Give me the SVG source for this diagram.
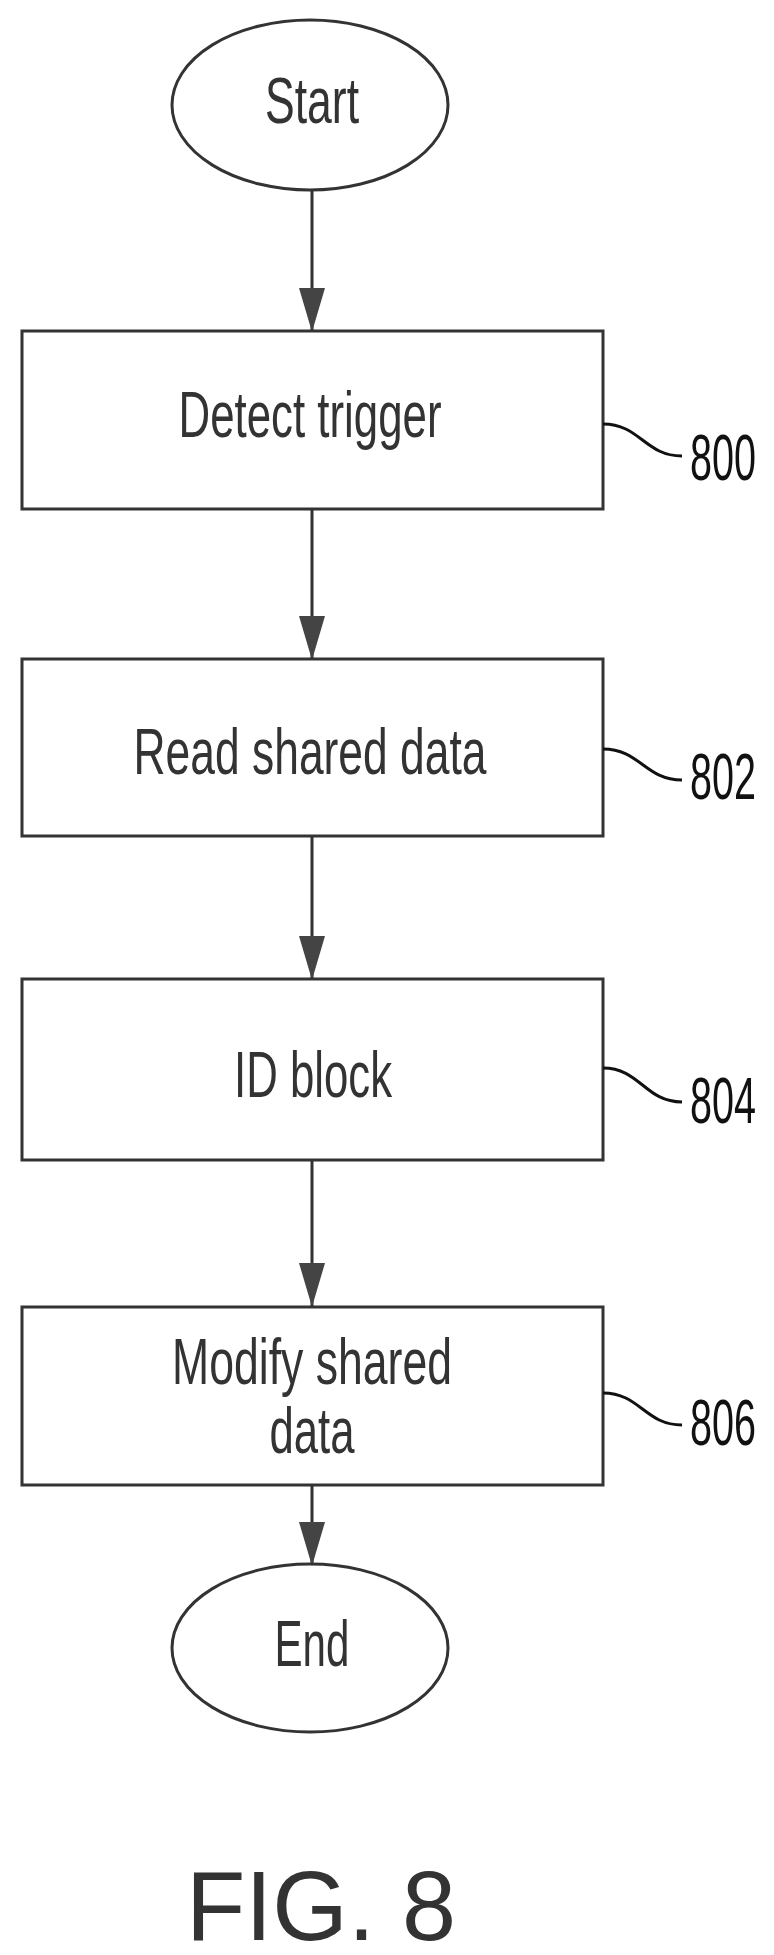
<svg xmlns="http://www.w3.org/2000/svg" width="774" height="1955" viewBox="0 0 774 1955">
<style>
.s{fill:none;stroke:#333;stroke-width:3}
.t{font-family:"Liberation Sans",Arial,sans-serif;font-size:64px;fill:#333}
.n{font-family:"Liberation Sans",Arial,sans-serif;font-size:64px;fill:#111}
.l{fill:none;stroke:#111;stroke-width:3}
</style>
<defs>
<marker id="a" markerUnits="userSpaceOnUse" markerWidth="44" markerHeight="26" refX="43" refY="13" orient="auto" viewBox="0 0 44 26">
<path d="M0,0 L44,13 L0,26 Z" fill="#444"/>
</marker>
</defs>
<rect width="774" height="1955" fill="#fff"/>
<g id="connectors">
<line class="s" x1="312" y1="190" x2="312" y2="331" marker-end="url(#a)"/>
<line class="s" x1="312" y1="509" x2="312" y2="659" marker-end="url(#a)"/>
<line class="s" x1="312" y1="836" x2="312" y2="979" marker-end="url(#a)"/>
<line class="s" x1="312" y1="1160" x2="312" y2="1306" marker-end="url(#a)"/>
<line class="s" x1="312" y1="1485" x2="312" y2="1565" marker-end="url(#a)"/>
</g>
<g id="start">
<ellipse class="s" cx="310" cy="105" rx="138" ry="85"/>
<text class="t" x="312" y="123" text-anchor="middle" textLength="94" lengthAdjust="spacingAndGlyphs">Start</text>
</g>
<g id="n800">
<rect class="s" x="22" y="331" width="581" height="178"/>
<text class="t" x="310" y="437" text-anchor="middle" textLength="263" lengthAdjust="spacingAndGlyphs">Detect trigger</text>
<path class="l" d="M603,424 C640,424 645,456 682,456"/>
<text class="n" x="690" y="480" textLength="66" lengthAdjust="spacingAndGlyphs">800</text>
</g>
<g id="n802">
<rect class="s" x="22" y="659" width="581" height="177"/>
<text class="t" x="310" y="774" text-anchor="middle" textLength="353" lengthAdjust="spacingAndGlyphs">Read shared data</text>
<path class="l" d="M603,749 C640,749 645,780 682,780"/>
<text class="n" x="690" y="799" textLength="66" lengthAdjust="spacingAndGlyphs">802</text>
</g>
<g id="n804">
<rect class="s" x="22" y="979" width="581" height="181"/>
<text class="t" x="313" y="1097" text-anchor="middle" textLength="158" lengthAdjust="spacingAndGlyphs">ID block</text>
<path class="l" d="M603,1068 C640,1068 645,1102 682,1102"/>
<text class="n" x="690" y="1123" textLength="66" lengthAdjust="spacingAndGlyphs">804</text>
</g>
<g id="n806">
<rect class="s" x="22" y="1307" width="581" height="178"/>
<text class="t" x="312" y="1384" text-anchor="middle" textLength="280" lengthAdjust="spacingAndGlyphs">Modify shared</text>
<text class="t" x="312" y="1453" text-anchor="middle" textLength="85" lengthAdjust="spacingAndGlyphs">data</text>
<path class="l" d="M603,1393 C640,1393 645,1425 682,1425"/>
<text class="n" x="690" y="1445" textLength="66" lengthAdjust="spacingAndGlyphs">806</text>
</g>
<g id="end">
<ellipse class="s" cx="310" cy="1648" rx="138" ry="84"/>
<text class="t" x="312" y="1666" text-anchor="middle" textLength="75" lengthAdjust="spacingAndGlyphs">End</text>
</g>
<text x="321" y="1940" text-anchor="middle" font-family="Liberation Sans,Arial,sans-serif" font-size="99" fill="#333" textLength="270" lengthAdjust="spacingAndGlyphs">FIG. 8</text>
</svg>
